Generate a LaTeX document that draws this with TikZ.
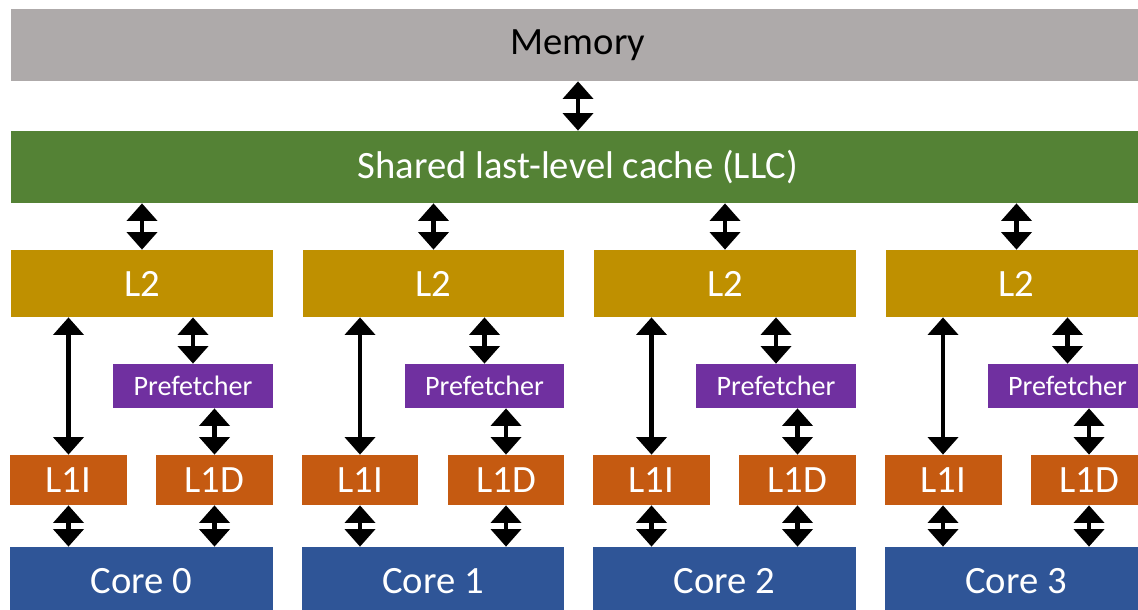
\documentclass[tikz,border=0pt]{standalone}
\usepackage{fontspec}
\setmainfont{Carlito}
\usetikzlibrary{arrows.meta}
\definecolor{memgray}{HTML}{AEAAAA}
\definecolor{llcgreen}{HTML}{548235}
\definecolor{ltwo}{HTML}{BF9000}
\definecolor{pfpurple}{HTML}{7030A0}
\definecolor{lone}{HTML}{C55A11}
\definecolor{coreblue}{HTML}{2F5597}

\begin{document}
\begin{tikzpicture}[x=0.02cm,y=-0.02cm,
    box/.style={inner sep=0pt,text=white,font=\fontsize{22}{24}\selectfont},
    wide/.style={box,minimum width=22.68cm,minimum height=1.44cm},
    lvltwo/.style={box,fill=ltwo,minimum width=5.24cm,minimum height=1.34cm},
    pref/.style={box,fill=pfpurple,minimum width=3.2cm,minimum height=0.88cm,font=\fontsize{16}{18}\selectfont},
    lvlone/.style={box,fill=lone,minimum width=2.34cm,minimum height=1cm},
    cpu/.style={box,fill=coreblue,minimum width=5.26cm,minimum height=1.36cm},
    bidir/.style={{Triangle[length=10pt,width=17pt]}-{Triangle[length=10pt,width=17pt]},line width=2.6pt}]
  \useasboundingbox (0,0) rectangle (1138,609);
  \clip (0,0) rectangle (1138,609);
  % memory and shared cache
  \node[wide,fill=memgray,text=black] (mem) at (578,45) {Memory};
  \node[wide,fill=llcgreen] (llc) at (578,167) {Shared last-level cache (LLC)};
  \draw[bidir] (mem.south) -- (llc.north);
  % one column per core
  \foreach \i in {0,...,3}{
    \pgfmathsetmacro\ox{291.5*\i}
    \node[lvltwo] (l2\i) at (\ox+142,283.5) {L2};
    \node[pref] (pf\i) at (\ox+193,386) {Prefetcher};
    \node[lvlone] (lii\i) at (\ox+68.5,480) {L1I};
    \node[lvlone] (lid\i) at (\ox+214.5,480) {L1D};
    \node[cpu] (core\i) at (\ox+141.5,581) {Core \i};
    \draw[bidir] (l2\i.north) -- (l2\i.north |- llc.south);
    \draw[bidir] (lii\i.north) -- (lii\i.north |- l2\i.south);
    \draw[bidir] (pf\i.north) -- (pf\i.north |- l2\i.south);
    \draw[bidir] (lid\i.north) -- (lid\i.north |- pf\i.south);
    \draw[bidir] (core\i.north -| lii\i.south) -- (lii\i.south);
    \draw[bidir] (core\i.north -| lid\i.south) -- (lid\i.south);
  }
\end{tikzpicture}
\end{document}
